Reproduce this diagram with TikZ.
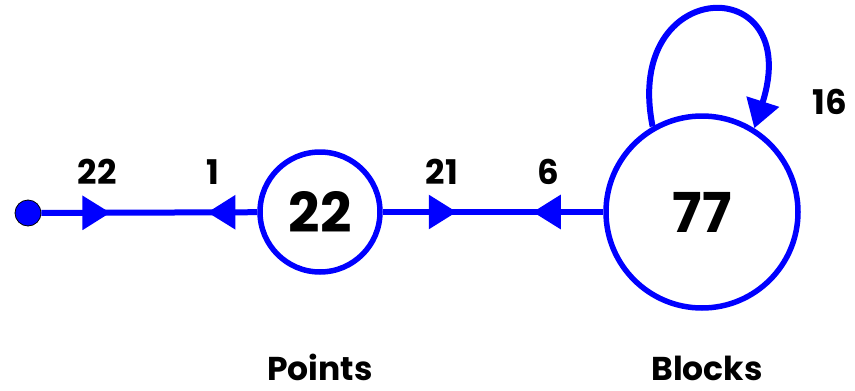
\documentclass[tikz,border=0pt]{standalone}
\usepackage{fontspec}
\setmainfont{Poppins}
\usetikzlibrary{arrows.meta,decorations.markings}
\definecolor{edgeblue}{RGB}{0,0,255}
\tikzset{
  state/.style={circle, draw=edgeblue, line width=5.5pt, fill=white, inner sep=0pt,
    font=\bfseries\fontsize{55}{60}\selectfont},
  source/.style={circle, draw=black, line width=0.8pt, fill=edgeblue, minimum size=26pt, inner sep=0pt},
  edge/.style={draw=edgeblue, line width=6pt},
  tri/.tip={Triangle[length=28pt, width=33pt]},
  count/.style={font=\bfseries\fontsize{34}{38}\selectfont, text=black},
  caption/.style={font=\bfseries\fontsize{33}{38}\selectfont, text=black, anchor=base, inner sep=0pt},
}
\begin{document}
\begin{tikzpicture}[x=1pt, y=-1pt]
  \useasboundingbox (0,0) rectangle (855,391);

  % nodes
  \node[source] (s) at (28,213) {};
  \node[state, minimum size=120pt] (p) at (320,212) {22};
  \node[state, minimum size=192pt] (b) at (702,212) {77};

  % edge between the source point and Points
  \path[edge, postaction={decorate, decoration={markings,
      mark=at position 69pt with {\arrow[edgeblue]{tri}},
      mark=at position 166pt with {\arrowreversed[edgeblue]{tri}}}}]
    (s) -- (p);

  % edge between Points and Blocks
  \path[edge, postaction={decorate, decoration={markings,
      mark=at position 74pt with {\arrow[edgeblue]{tri}},
      mark=at position 150pt with {\arrowreversed[edgeblue]{tri}}}}]
    (p) -- (b);

  % self loop on Blocks
  \draw[edge, -{tri}] (b.120) .. controls (622,-25) and (805,-30) .. (b.58);

  % counts
  \node[count] (c1) at (97,172) {22};
  \node[count] (c2) at (213,172) {1};
  \node[count] (c3) at (442,172) {21};
  \node[count] (c4) at (548,172) {6};
  \node[count] (c5) at (830,102) {16};

  % captions
  \node[caption] (lp) at (320,380) {Points};
  \node[caption] (lb) at (707,380) {Blocks};
\end{tikzpicture}
\end{document}
